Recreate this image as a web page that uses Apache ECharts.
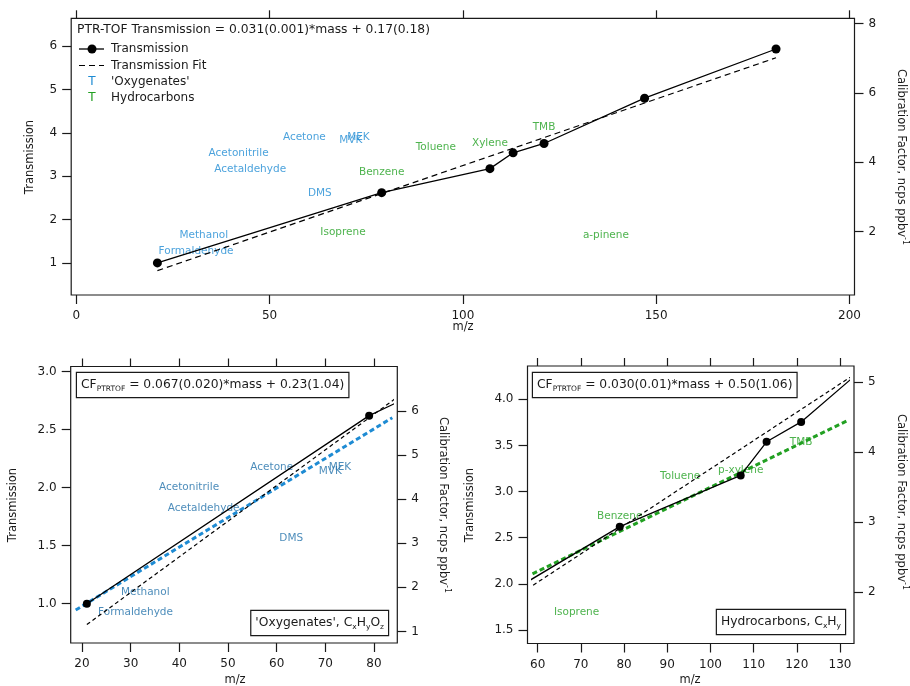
<!DOCTYPE html>
<html><head><meta charset="utf-8">
<script src="https://cdn.jsdelivr.net/npm/echarts@6/dist/echarts.min.js"></script>
<style>html,body{margin:0;padding:0;background:#fff}#c{width:910px;height:686px}</style>
</head><body><div id="c"></div>
<script>
// ---------------- data ----------------
const transMz  = [21, 79, 107, 113, 121, 147, 181];
const transVal = [1.00, 2.62, 3.175, 3.54, 3.755, 4.80, 5.935];
const fitSlope = 0.0307, fitIntercept = 0.176;          // PTR-TOF transmission fit

const oxyNames = ['Formaldehyde', 'Methanol', 'Acetonitrile', 'Acetaldehyde', 'Acetone', 'MVK', 'MEK', 'DMS'];
const oxyMz    = [31, 33, 42, 45, 59, 71, 73, 63];
const oxyCF    = [1.43, 1.89, 4.27, 3.79, 4.73, 4.63, 4.73, 3.10];
const oxyFitSlope = 0.067, oxyFitIntercept = 0.23;

const hcNamesTop    = ['Benzene', 'Toluene', 'Xylene', 'TMB', 'Isoprene', 'a-pinene'];
const hcNamesDetail = ['Benzene', 'Toluene', 'p-xylene', 'TMB', 'Isoprene', 'a-pinene'];
const hcMz = [79, 93, 107, 121, 69, 137];
const hcCF = [3.08, 3.66, 3.75, 4.14, 1.71, 1.63];
const hcFitSlope = 0.030, hcFitIntercept = 0.50;

// tick labels
const topXTicks = [0, 50, 100, 150, 200];
const topYLTicks = [1, 2, 3, 4, 5, 6];
const topYRTicks = [2, 4, 6, 8];
const blXTicks = [20, 30, 40, 50, 60, 70, 80];
const blYLTicks = [1.0, 1.5, 2.0, 2.5, 3.0];
const blYRTicks = [1, 2, 3, 4, 5, 6];
const brXTicks = [60, 70, 80, 90, 100, 110, 120, 130];
const brYLTicks = [1.5, 2.0, 2.5, 3.0, 3.5, 4.0];
const brYRTicks = [2, 3, 4, 5];

// ---------------- layout ----------------
const FONT = 'DejaVu Sans';
const INK = '#1a1a1a';
const BLUE = '#1e8bd3', BLUE_DARK = '#1f6fa9', GREEN = '#22a022';
const grids = [
  {left: 76.2, top: 23.3, width: 773.3, height: 266.7},
  {left: 75.7, top: 371.5, width: 316.6, height: 266.5},
  {left: 532.5, top: 371, width: 316.5, height: 267.5}
];
const ranges = {
  x: [[0, 200], [18.71, 83.76], [58.80, 132.08]],
  yL: [[0.375, 6.528], [0.705, 3.0], [1.408, 4.307]],
  yR: [[0.318, 8.012], [0.85, 6.89], [1.34, 5.161]]
};
const OFF = 5;

function xAx(gi, ticks, bottom) {
  return {
    type: 'value', gridIndex: gi, position: bottom ? 'bottom' : 'top', offset: OFF,
    min: ranges.x[gi][0], max: ranges.x[gi][1],
    axisLine: {show: false, onZero: false}, splitLine: {show: false},
    axisTick: {show: true, customValues: ticks, length: bottom ? 9 : 8, lineStyle: {color: INK, width: 1.2}},
    axisLabel: bottom ? {show: true, customValues: ticks, margin: 15, color: INK, fontSize: 12, fontFamily: FONT}
                      : {show: false}
  };
}
function yAx(gi, ticks, left, fmt) {
  const r = left ? ranges.yL[gi] : ranges.yR[gi];
  return {
    type: 'value', gridIndex: gi, position: left ? 'left' : 'right', offset: OFF,
    min: r[0], max: r[1],
    axisLine: {show: false, onZero: false}, splitLine: {show: false},
    axisTick: {show: true, customValues: ticks, length: 9, lineStyle: {color: INK, width: 1.2}},
    axisLabel: {show: true, customValues: ticks, margin: 14, color: INK, fontSize: 12, fontFamily: FONT,
                formatter: v => fmt ? Number(v).toFixed(1) : String(v)}
  };
}

const zip = (a, b, c) => a.map((v, i) => c ? [v, b[i], c[i]] : [v, b[i]]);
const transData = zip(transMz, transVal);
const fitLine = [transMz[0], transMz[transMz.length - 1]].map(x => [x, fitSlope * x + fitIntercept]);
const oxyFit = ranges.x[1].map(x => [x, oxyFitSlope * x + oxyFitIntercept]);
const hcFit = ranges.x[2].map(x => [x, hcFitSlope * x + hcFitIntercept]);

function labelSeries(xi, yi, data, color) {
  return {
    type: 'scatter', xAxisIndex: xi, yAxisIndex: yi, data: data, symbolSize: 1, z: 1, silent: true,
    itemStyle: {color: 'rgba(0,0,0,0)'},
    label: {show: true, position: 'inside', formatter: p => p.data[2], color: color,
            fontSize: 10.5, fontFamily: FONT, align: 'center', verticalAlign: 'middle'}
  };
}
function transSeries(xi, yi, size) {
  return {type: 'line', xAxisIndex: xi, yAxisIndex: yi, data: transData, z: 5,
          symbol: 'circle', symbolSize: size, showSymbol: true,
          itemStyle: {color: '#000'}, lineStyle: {color: '#000', width: 1.3}};
}
function fitSeries(xi, yi, dash) {
  return {type: 'line', xAxisIndex: xi, yAxisIndex: yi, data: fitLine, z: 4, symbol: 'none',
          lineStyle: {color: '#000', width: 1.2, type: dash}};
}

const series = [
  // top panel
  labelSeries(0, 1, zip(oxyMz, oxyCF, oxyNames), BLUE),
  labelSeries(0, 0, zip(hcMz, hcCF, hcNamesTop), GREEN),
  fitSeries(0, 0, [6, 4]),
  transSeries(0, 0, 9),
  // bottom-left
  labelSeries(2, 3, zip(oxyMz, oxyCF, oxyNames), BLUE_DARK),
  {type: 'line', xAxisIndex: 2, yAxisIndex: 3, data: oxyFit, z: 3, symbol: 'none',
   lineStyle: {color: BLUE, width: 3, type: [5, 3]}},
  fitSeries(2, 2, [4, 3]),
  transSeries(2, 2, 8),
  // bottom-right
  labelSeries(4, 5, zip(hcMz, hcCF, hcNamesDetail), GREEN),
  {type: 'line', xAxisIndex: 4, yAxisIndex: 5, data: hcFit, z: 3, symbol: 'none',
   lineStyle: {color: GREEN, width: 3, type: [5, 3]}},
  fitSeries(4, 4, [4, 3]),
  transSeries(4, 4, 8)
];

// ---------------- graphic decorations ----------------
const g = [];
grids.forEach(gr => g.push({type: 'rect', z: 50, silent: true,
  shape: {x: gr.left - OFF, y: gr.top - OFF, width: gr.width + 2 * OFF, height: gr.height + 2 * OFF},
  style: {fill: 'none', stroke: INK, lineWidth: 1.2}}));

function txt(x, y, text, opt) {
  return {type: 'text', x: x, y: y, z: 60, silent: true,
    style: Object.assign({text: text, fill: INK, fontSize: 12, fontFamily: FONT, align: 'left', verticalAlign: 'middle'}, opt || {})};
}
function rot(x, y, rich, r) {
  return {type: 'text', x: x, y: y, rotation: r, z: 60, silent: true,
    style: {text: rich, fill: INK, fontFamily: FONT, fontSize: 11.5, align: 'center', verticalAlign: 'middle',
      rich: {a: {fontSize: 11.5, fontFamily: FONT, lineHeight: 16},
             s: {fontSize: 8, fontFamily: FONT, lineHeight: 8, verticalAlign: 'top'}}}};
}
const cfTitle = '{a|Calibration Factor, ncps ppbv}{s|-1}';
// axis titles
g.push(rot(30, 157, '{a|Transmission}', Math.PI / 2));
g.push(rot(901, 157, cfTitle, -Math.PI / 2));
g.push(txt(463, 327, 'm/z', {align: 'center', fontSize: 11.5}));
g.push(rot(13.5, 505, '{a|Transmission}', Math.PI / 2));
g.push(rot(443, 505, cfTitle, -Math.PI / 2));
g.push(txt(235, 680, 'm/z', {align: 'center', fontSize: 11.5}));
g.push(rot(470, 505, '{a|Transmission}', Math.PI / 2));
g.push(rot(901, 502, cfTitle, -Math.PI / 2));
g.push(txt(690, 680, 'm/z', {align: 'center', fontSize: 11.5}));

// top legend
g.push(txt(77, 29.5, 'PTR-TOF Transmission = 0.031(0.001)*mass + 0.17(0.18)', {fontSize: 12.3}));
g.push({type: 'line', z: 60, silent: true, shape: {x1: 79, y1: 49, x2: 104, y2: 49}, style: {stroke: '#000', lineWidth: 1.3}});
g.push({type: 'circle', z: 61, silent: true, shape: {cx: 92, cy: 49, r: 4.5}, style: {fill: '#000'}});
g.push(txt(111, 49, 'Transmission'));
g.push({type: 'line', z: 60, silent: true, shape: {x1: 79, y1: 65.5, x2: 104, y2: 65.5}, style: {stroke: '#000', lineWidth: 1.2, lineDash: [6, 4]}});
g.push(txt(111, 65.5, 'Transmission Fit'));
g.push(txt(92, 81.5, 'T', {align: 'center', fill: BLUE}));
g.push(txt(111, 81.5, "'Oxygenates'"));
g.push(txt(92, 97.5, 'T', {align: 'center', fill: GREEN}));
g.push(txt(111, 97.5, 'Hydrocarbons'));

// equation / category boxes
const boxRich = {
  n: {fontSize: 12.3, fontFamily: FONT, lineHeight: 16},
  s: {fontSize: 7.5, fontFamily: FONT, lineHeight: 8, verticalAlign: 'bottom'}
};
function box(x, y, text, align) {
  return {type: 'text', x: x, y: y, z: 70, silent: true,
    style: {text: text, rich: boxRich, fill: INK, fontFamily: FONT, fontSize: 12, align: align, verticalAlign: 'top',
      backgroundColor: '#fff', borderColor: INK, borderWidth: 1.2, padding: [4, 4, 4, 4]}};
}
g.push(box(77, 373, '{n|CF}{s|PTRTOF}{n| = 0.067(0.020)*mass + 0.23(1.04)}', 'left'));
g.push(box(388, 611, "{n|'Oxygenates', C}{s|x}{n|H}{s|y}{n|O}{s|z}", 'right'));
g.push(box(533, 373, '{n|CF}{s|PTRTOF}{n| = 0.030(0.01)*mass + 0.50(1.06)}', 'left'));
g.push(box(845, 610, '{n|Hydrocarbons, C}{s|x}{n|H}{s|y}', 'right'));

const option = {
  animation: false,
  backgroundColor: '#fff',
  textStyle: {fontFamily: FONT},
  grid: grids,
  xAxis: [xAx(0, topXTicks, true), xAx(0, topXTicks, false),
          xAx(1, blXTicks, true), xAx(1, blXTicks, false),
          xAx(2, brXTicks, true), xAx(2, brXTicks, false)],
  yAxis: [yAx(0, topYLTicks, true, false), yAx(0, topYRTicks, false, false),
          yAx(1, blYLTicks, true, true), yAx(1, blYRTicks, false, false),
          yAx(2, brYLTicks, true, true), yAx(2, brYRTicks, false, false)],
  series: series,
  graphic: g
};
const chart = echarts.init(document.getElementById('c'), null, {renderer: 'canvas'});
chart.setOption(option);
</script></body></html>
